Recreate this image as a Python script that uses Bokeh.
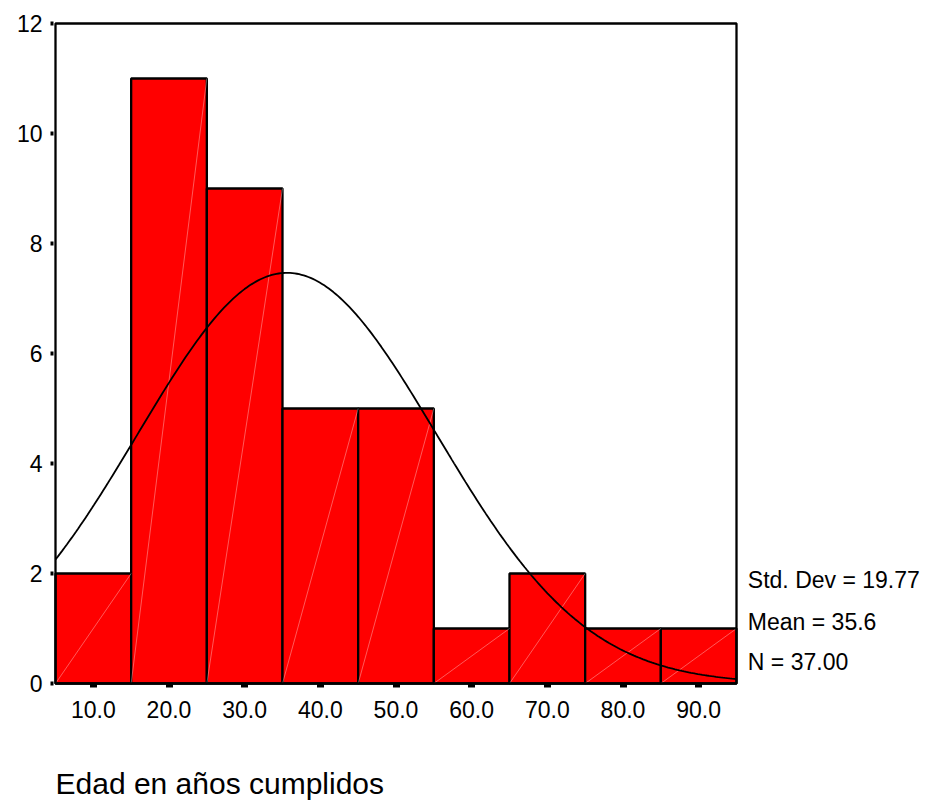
import numpy as np
from bokeh.plotting import figure
from bokeh.models import FixedTicker, CustomJSTickFormatter, ColumnDataSource
from bokeh.core.properties import value
from bokeh.embed import file_html
from bokeh.resources import INLINE

# ---- data ----
bin_centers = [10, 20, 30, 40, 50, 60, 70, 80, 90]
counts = [2, 11, 9, 5, 5, 1, 2, 1, 1]
bin_width = 10
std_dev = 19.77
mean = 35.6
n_total = 37
x_tick_values = [10, 20, 30, 40, 50, 60, 70, 80, 90]
y_tick_values = [0, 2, 4, 6, 8, 10, 12]
x_title = "Edad en años cumplidos"
stats_lines = ["Std. Dev = 19.77", "Mean = 35.6", "N = 37.00"]

FONT = "Liberation Sans"

lefts = [c - bin_width / 2 for c in bin_centers]
rights = [c + bin_width / 2 for c in bin_centers]
x_lo = lefts[0]
x_hi = rights[-1]
y_hi = max(y_tick_values)

W, H = 927, 802
BL, BR, BT, BB = 53, 0, 12, 0
px_per_x = 681 / (x_hi - x_lo)
px_per_y = 55.0
x_start = x_lo - (55 - BL) / px_per_x
x_end = x_start + (W - BL - BR) / px_per_x
y_start = -(H - BB - 683) / px_per_y
y_end = y_hi + (23 - BT) / px_per_y

p = figure(width=W, height=H, output_backend="svg", toolbar_location=None,
           x_range=(x_start, x_end), y_range=(y_start, y_end),
           min_border_left=BL, min_border_right=BR, min_border_top=BT, min_border_bottom=BB)
p.background_fill_color = "white"
p.border_fill_color = "white"
p.outline_line_color = None
p.xgrid.visible = False
p.ygrid.visible = False

src = ColumnDataSource(dict(left=lefts, right=rights, top=counts, bottom=[0] * len(counts)))
p.quad(left="left", right="right", top="top", bottom="bottom", source=src,
       fill_color="#ff0000", line_color="black", line_width=2.3)

# faint diagonal streaks inside bars
p.segment(x0=lefts, y0=[0] * len(counts), x1=rights, y1=counts,
          line_color="white", line_alpha=0.35, line_width=1)

# fitted normal curve from the stated statistics
xs = np.linspace(x_lo, x_hi, 300)
ys = n_total * bin_width / (std_dev * np.sqrt(2 * np.pi)) * np.exp(-0.5 * ((xs - mean) / std_dev) ** 2)
p.line(xs, ys, line_color="black", line_width=1.8)

# chart frame
p.quad(left=[x_lo], right=[x_hi], bottom=[0], top=[y_hi], fill_color=None,
       line_color="black", line_width=2.3)

# stats text
stat_y = [1.89, 1.127, 0.40]
p.text(x=[96.5] * 3, y=stat_y, text=stats_lines, text_font=value(FONT),
       text_font_size="23px", text_align="left", text_baseline="middle", text_color="black")

# x title
p.text(x=[x_lo], y=[-1.82], text=[x_title], text_font=value(FONT),
       text_font_size="30px", text_align="left", text_baseline="middle", text_color="black")

# axes
p.xaxis.fixed_location = 0
p.xaxis.ticker = FixedTicker(ticks=x_tick_values)
p.xaxis.formatter = CustomJSTickFormatter(code="return tick.toFixed(1);")
p.xaxis.axis_line_color = None
p.xaxis.major_tick_in = 0
p.xaxis.major_tick_out = 4
p.xaxis.major_tick_line_width = 7
p.xaxis.major_tick_line_cap = "butt"
p.xaxis.minor_tick_line_color = None
p.xaxis.major_label_standoff = 13
p.xaxis.major_label_text_font = FONT
p.xaxis.major_label_text_font_size = "23px"
p.xaxis.major_label_text_color = "black"

p.yaxis.ticker = FixedTicker(ticks=y_tick_values)
p.yaxis.axis_line_color = None
p.yaxis.major_tick_in = 0
p.yaxis.major_tick_out = 3
p.yaxis.major_tick_line_width = 4
p.yaxis.minor_tick_line_color = None
p.yaxis.major_label_standoff = 8
p.yaxis.major_label_text_font = FONT
p.yaxis.major_label_text_font_size = "23px"
p.yaxis.major_label_text_color = "black"

open("out.html", "w").write(file_html(p, INLINE))
